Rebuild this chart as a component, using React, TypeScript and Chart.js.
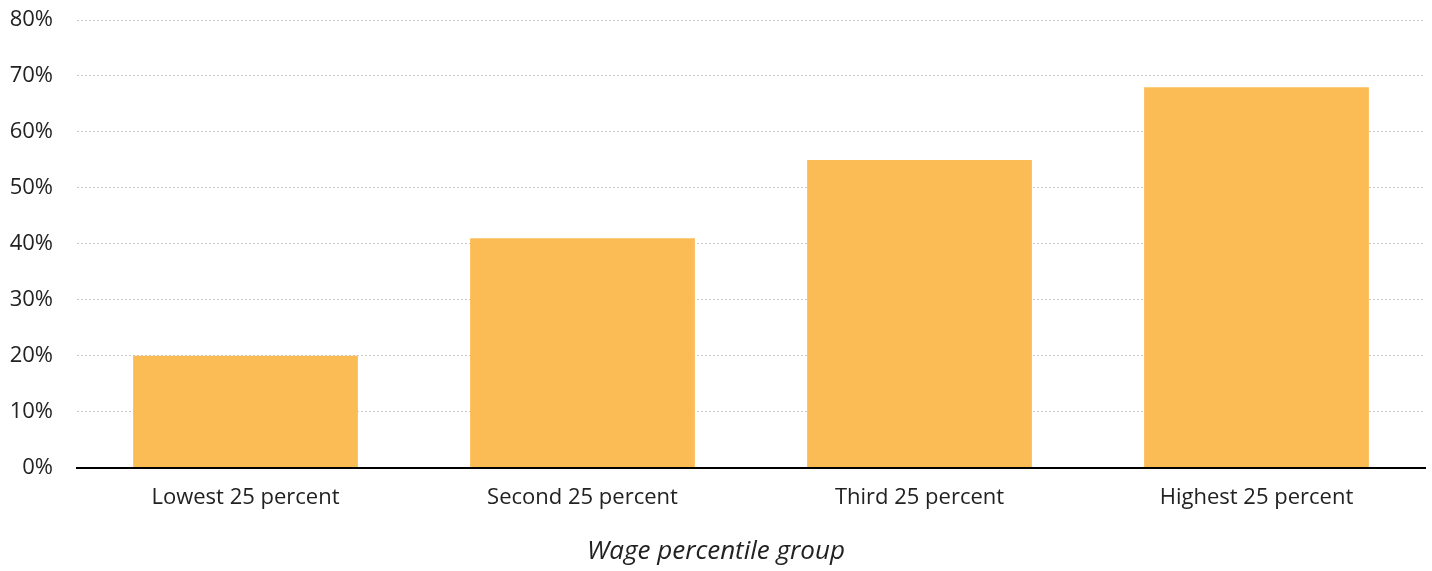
import React, { useEffect, useRef } from "react";
import { Chart, registerables } from "chart.js";

Chart.register(...registerables);

const categories = ["Lowest 25 percent", "Second 25 percent", "Third 25 percent", "Highest 25 percent"];
const values = [20, 41, 55, 68];
const yTicks = [0, 10, 20, 30, 40, 50, 60, 70, 80];
const xTitle = "Wage percentile group";

export default function App() {
  const ref = useRef<HTMLCanvasElement | null>(null);
  useEffect(() => {
    document.body.style.margin = "0";
    const ctx = ref.current!;
    const chart = new Chart(ctx, {
      type: "bar",
      data: {
        labels: categories,
        datasets: [
          {
            data: values,
            backgroundColor: "#FCBC55",
            borderWidth: 0,
            barPercentage: 0.667,
            categoryPercentage: 1,
          },
        ],
      },
      options: {
        animation: false,
        responsive: true,
        maintainAspectRatio: false,
        layout: { padding: { left: 10, right: 7, top: 20, bottom: 51 } },
        plugins: { legend: { display: false }, tooltip: { enabled: false } },
        scales: {
          x: {
            afterFit: (s: any) => {
              s.paddingLeft = 0;
              s.paddingRight = 0;
            },
            grid: { display: false },
            border: { display: true, color: "#000", width: 2 },
            ticks: {
              color: "#222",
              font: { family: "Open Sans", size: 22 },
              padding: 9,
            },
          },
          y: {
            min: 0,
            max: 80,
            afterBuildTicks: (axis: any) => {
              axis.ticks = yTicks.map((v) => ({ value: v }));
            },
            afterFit: (s: any) => {
              s.paddingTop = 0;
              s.width = 67;
            },
            border: { display: false, dash: [2, 2] },
            grid: {
              color: "#c8c8c8",
              lineWidth: 1,
              drawTicks: false,
            },
            ticks: {
              color: "#222",
              font: { family: "Open Sans", size: 22 },
              padding: 24,
              callback: (v: any) => v + "%",
            },
          },
        },
      },
      plugins: [
        {
          id: "xTitleCentered",
          afterDraw: (c: any) => {
            const g = c.ctx;
            g.save();
            g.font = "italic 26px 'Open Sans'";
            g.fillStyle = "#222";
            g.textAlign = "center";
            g.textBaseline = "middle";
            g.fillText(xTitle, c.width / 2, c.height - 19);
            g.restore();
          },
        },
      ],
    } as any);
    return () => chart.destroy();
  }, []);
  return (
    <div style={{ width: 1432, height: 571, position: "relative" }}>
      <canvas ref={ref} />
    </div>
  );
}
